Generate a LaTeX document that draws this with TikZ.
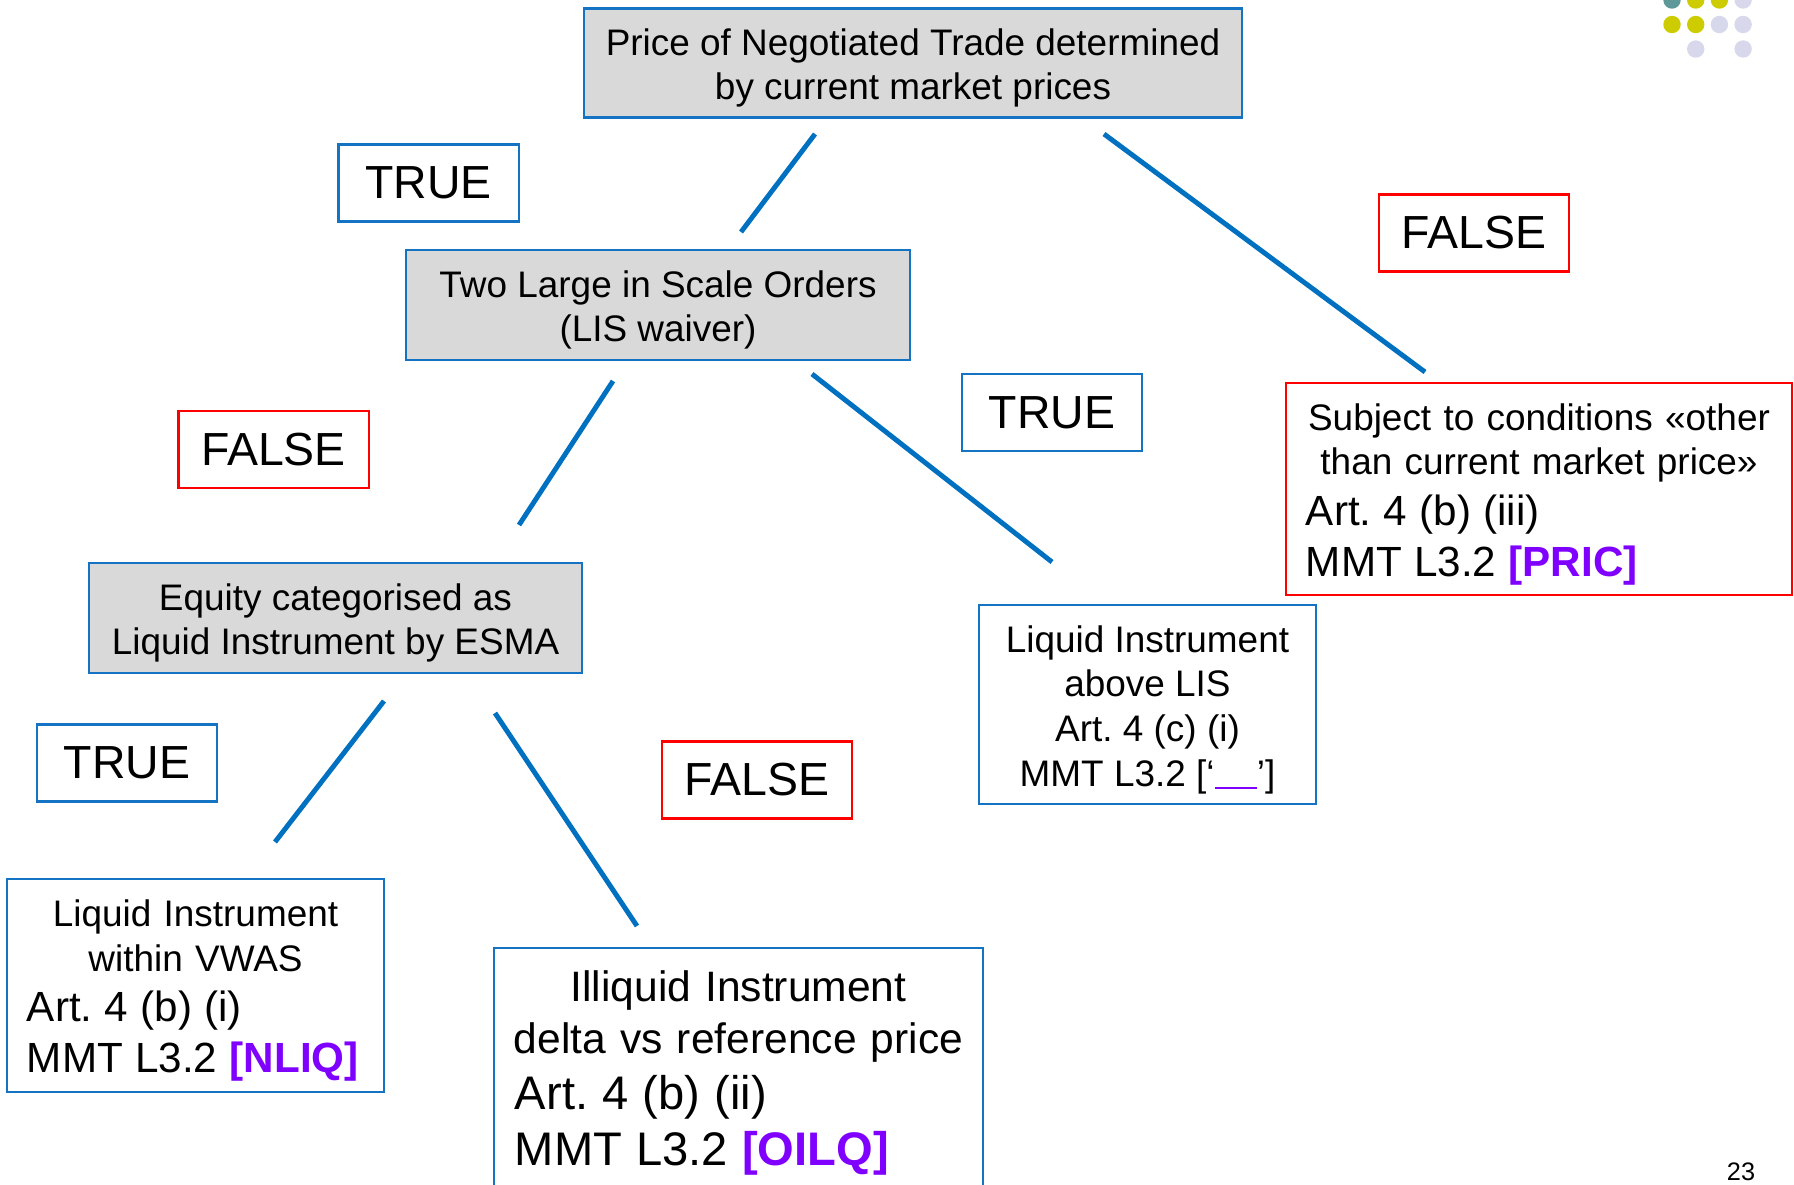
\documentclass[tikz,border=0pt]{standalone}
\usepackage{xcolor}
\usepackage{fontspec}
\setmainfont{Liberation Sans}
\usepackage{tikz}
\frenchspacing

\definecolor{branchblue}{HTML}{0070C0}
\definecolor{boxblue}{HTML}{1473C2}
\definecolor{falsered}{HTML}{FF0000}
\definecolor{boxgray}{HTML}{D9D9D9}
\definecolor{codepurple}{HTML}{8000FF}
\definecolor{dotteal}{HTML}{5F9898}
\definecolor{dotyellow}{HTML}{CCCC00}
\definecolor{dotlilac}{HTML}{D8D8EC}

% strut that pushes a first line down a little
\newcommand{\topstrut}{\rule{0pt}{1em}}

\tikzset{
  question/.style={draw=boxblue, line width=0.6pt, fill=boxgray, inner sep=0pt,
    align=center, font=\fontsize{10.5}{12.7}\selectfont},
  leaf/.style={draw=boxblue, line width=0.6pt, fill=white, inner sep=0pt,
    font=\fontsize{10.5}{12.7}\selectfont},
  truelabel/.style={draw=boxblue, line width=0.6pt, fill=white, inner sep=0pt,
    minimum width=1.8cm, minimum height=0.77cm, font=\fontsize{13.2}{15}\selectfont},
  falselabel/.style={truelabel, draw=falsered, minimum width=1.9cm},
  branch/.style={draw=branchblue, line width=1.4pt}
}

\begin{document}
\begin{tikzpicture}[x=0.01cm, y=-0.01cm]
  \useasboundingbox (0,0) rectangle (1794,1184);

  % Decision boxes
  \node[question, minimum width=6.58cm, minimum height=1.09cm] (price) at (913,63)
    {\topstrut Price of Negotiated Trade determined\\by current market prices};
  \node[question, minimum width=5.04cm, minimum height=1.10cm] (lis) at (658,305)
    {\topstrut Two Large in Scale Orders\\(LIS waiver)};
  \node[question, minimum width=4.93cm, minimum height=1.10cm] (equity) at (335.5,618)
    {\topstrut Equity categorised as\\Liquid Instrument by ESMA};

  % Outcome boxes
  \node[leaf, draw=falsered, minimum width=5.06cm, minimum height=2.12cm,
    text width=4.86cm, align=left] (pric) at (1539,489)
    {{\centering\topstrut Subject to conditions «other\\ than current market price»\par}%
     \leftskip=0.1cm\fontsize{12}{14.4}\selectfont Art. 4 (b) (iii)\par
     MMT L3.2 \textcolor{codepurple}{\textbf{[PRIC]}}\par};
  \node[leaf, minimum width=3.37cm, minimum height=1.99cm, align=center] (above) at (1147.5,704.5)
    {\topstrut Liquid Instrument\\ above LIS\\ Art. 4 (c) (i)\\
     MMT L3.2 [‘{\color{codepurple}\rule[-0.9pt]{12pt}{0.6pt}}’]};
  \node[leaf, minimum width=3.77cm, minimum height=2.13cm,
    text width=3.57cm, align=left] (nliq) at (195.5,985.5)
    {{\centering\topstrut Liquid Instrument\\ within VWAS\par}%
     \leftskip=0.1cm\fontsize{12}{14.4}\selectfont Art. 4 (b) (i)\par
     MMT L3.2 \textcolor{codepurple}{\textbf{[NLIQ]}}\par};
  \node[leaf, minimum width=4.89cm, minimum height=2.39cm,
    text width=4.69cm, align=left, font=\fontsize{12.1}{14.6}\selectfont] (oilq) at (738.5,1067.5)
    {{\centering\topstrut Illiquid Instrument\\ delta vs reference price\par}%
     \leftskip=0.11cm\fontsize{13.4}{16}\selectfont Art. 4 (b) (ii)\par
     MMT L3.2 \textcolor{codepurple}{\textbf{[OILQ]}}\par};

  % TRUE / FALSE tags
  \node[truelabel] (true1) at (428.5,183) {TRUE};
  \node[falselabel] (false1) at (1474,233) {FALSE};
  \node[falselabel] (false2) at (273.5,449.5) {FALSE};
  \node[truelabel] (true2) at (1052,412.5) {TRUE};
  \node[truelabel] (true3) at (127,763) {TRUE};
  \node[falselabel] (false3) at (757,780) {FALSE};

  % Branch lines
  \coordinate (b1a) at (815,134);  \coordinate (b1b) at (741,232);
  \coordinate (b2a) at (1104,134); \coordinate (b2b) at (1425,372);
  \coordinate (b3a) at (613,381);  \coordinate (b3b) at (519,525);
  \coordinate (b4a) at (812,374);  \coordinate (b4b) at (1052,562);
  \coordinate (b5a) at (384,701);  \coordinate (b5b) at (275,842);
  \coordinate (b6a) at (495,713);  \coordinate (b6b) at (637,926);
  \foreach \i in {1,...,6}
    \draw[branch] (b\i a) -- (b\i b);

  % Corner dots
  \foreach \c/\r/\clr in {0/0/dotteal, 1/0/dotyellow, 2/0/dotyellow, 3/0/dotlilac,
                          0/1/dotyellow, 1/1/dotyellow, 2/1/dotlilac, 3/1/dotlilac,
                          1/2/dotlilac, 3/2/dotlilac}
    \fill[\clr] ({1672+23.7*\c},{24.5*\r}) circle (0.087cm);

  % Page number
  \node[font=\fontsize{7.2}{8}\selectfont] (pagenum) at (1741,1172) {23};
\end{tikzpicture}
\end{document}
